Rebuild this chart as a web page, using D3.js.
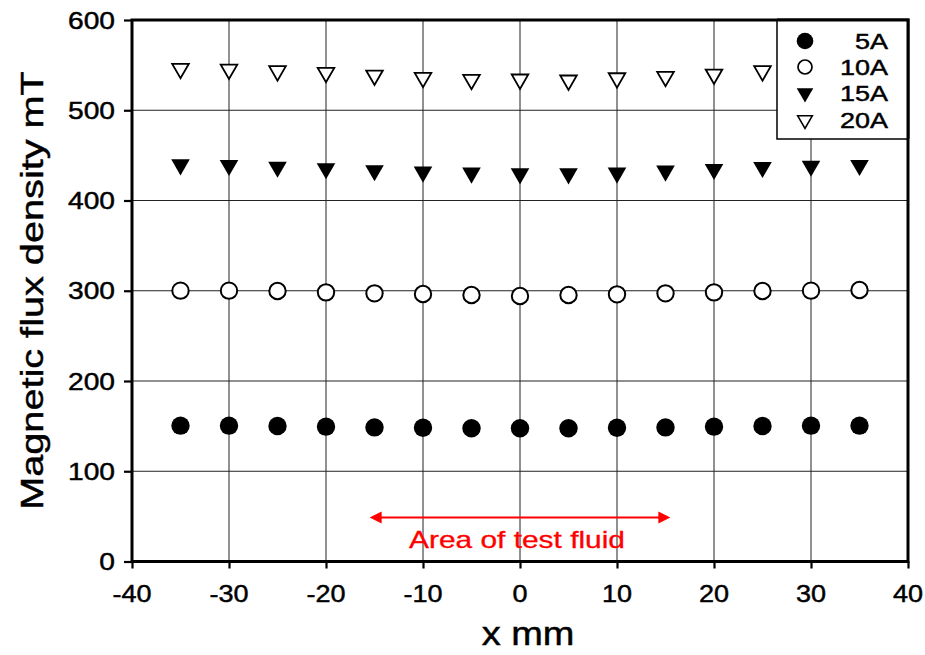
<!DOCTYPE html>
<html>
<head>
<meta charset="utf-8">
<script src="https://cdn.jsdelivr.net/npm/d3@7"></script>
<style>
  html, body { margin: 0; padding: 0; background: #fff; }
  svg { display: block; }
  text { font-family: "Liberation Sans", Arial, sans-serif; }
</style>
</head>
<body>
<svg id="chart" width="925" height="655"></svg>
<script>
// Measurement positions along x (mm)
const positions = [-35, -30, -25, -20, -15, -10, -5, 0, 5, 10, 15, 20, 25, 30, 35];

// Magnetic flux density (mT) for each coil current
const flux5A  = [150.5, 150.5, 150.1, 149.4, 148.6, 148.2, 147.6, 147.6, 147.6, 148.2, 148.6, 149.4, 150.1, 150.5, 150.5];
const flux10A = [300.1, 300.1, 299.7, 298.2, 297.1, 296.4, 295.3, 294.2, 295.3, 296.0, 297.1, 298.2, 299.7, 300.1, 300.8];
const flux15A = [439.8, 439.1, 437.2, 435.4, 433.2, 431.7, 430.6, 429.8, 429.8, 430.6, 432.8, 434.7, 436.8, 438.3, 439.1];
const flux20A = [546.2, 545.4, 543.6, 541.7, 538.8, 536.2, 534.0, 534.4, 533.3, 535.8, 537.3, 539.9, 543.6, 545.0, 546.0];

const seriesNames = ["5A", "10A", "15A", "20A"];
const xTicks = [-40, -30, -20, -10, 0, 10, 20, 30, 40];
const yTicks = [0, 100, 200, 300, 400, 500, 600];
const fluidRange = [-15.5, 15.5];

const svg = d3.select("#chart");
const plotL = 132, plotR = 908, plotT = 20, plotB = 561.5;

const x = d3.scaleLinear().domain([-40, 40]).range([plotL, plotR]);
const y = d3.scaleLinear().domain([0, 600]).range([plotB, plotT]);

// Text with horizontally widened, slightly heavier glyphs
function wideText(g, px, py, str, opts) {
  const fill = opts.fill || "#000";
  return g.append("text")
    .attr("transform", `translate(${px},${py}) ${opts.rotate ? "rotate(-90)" : ""} scale(${opts.sx || 1.25},1)`)
    .attr("font-size", opts.size)
    .attr("text-anchor", opts.anchor || "middle")
    .attr("fill", fill)
    .attr("stroke", fill)
    .attr("stroke-width", opts.sw == null ? 0.45 : opts.sw)
    .text(str);
}

// Grid lines
const grid = svg.append("g").attr("stroke", "#222").attr("stroke-width", 1);
grid.selectAll("line.gx").data(xTicks.slice(1, -1)).join("line").attr("class", "gx")
  .attr("x1", d => x(d)).attr("x2", d => x(d)).attr("y1", plotT).attr("y2", plotB);
grid.selectAll("line.gy").data(yTicks.slice(1, -1)).join("line").attr("class", "gy")
  .attr("x1", plotL).attr("x2", plotR).attr("y1", d => y(d)).attr("y2", d => y(d));

// Axes
const xAxis = svg.append("g").attr("transform", `translate(0,${plotB})`)
  .call(d3.axisBottom(x).tickValues(xTicks).tickSize(7).tickFormat(""));
const yAxis = svg.append("g").attr("transform", `translate(${plotL},0)`)
  .call(d3.axisLeft(y).tickValues(yTicks).tickSize(8).tickFormat(""));
[xAxis, yAxis].forEach(a => {
  a.select(".domain").remove();
  a.selectAll(".tick line").attr("stroke", "#000").attr("stroke-width", 2.2);
});

// Tick labels
const labels = svg.append("g");
xTicks.forEach(v => wideText(labels, x(v), 602, String(v), { size: 23.5, sx: 1.15 }));
yTicks.forEach(v => wideText(labels, 115, y(v) + 8.5, String(v), { size: 23.5, anchor: "end", sx: 1.2 }));

// Plot frame
svg.append("rect")
  .attr("x", plotL).attr("y", plotT)
  .attr("width", plotR - plotL).attr("height", plotB - plotT)
  .attr("fill", "none").attr("stroke", "#000").attr("stroke-width", 3);

// Marker shapes
const triDown = (hw, up, down) => `M${-hw},${-up}L${hw},${-up}L0,${down}Z`;
const markers = {
  "5A":  g => g.append("circle").attr("r", 9.2).attr("fill", "#000"),
  "10A": g => g.append("circle").attr("r", 8.2).attr("fill", "#fff").attr("stroke", "#000").attr("stroke-width", 2),
  "15A": g => g.append("path").attr("d", triDown(9.3, 5.3, 10.8)).attr("fill", "#000"),
  "20A": g => g.append("path").attr("d", triDown(8.3, 4.7, 9.7)).attr("fill", "#fff").attr("stroke", "#000").attr("stroke-width", 1.8)
};

const series = [flux5A, flux10A, flux15A, flux20A];
series.forEach((vals, i) => {
  const name = seriesNames[i];
  svg.append("g").selectAll("g")
    .data(positions.map((p, j) => ({ p, v: vals[j] }))).join("g")
    .attr("transform", d => `translate(${x(d.p)},${y(d.v)})`)
    .each(function () { markers[name](d3.select(this)); });
});

// Legend
const legend = svg.append("g");
const legL = 777, legB = 139;
legend.append("rect")
  .attr("x", legL).attr("y", plotT).attr("width", plotR - legL).attr("height", legB - plotT)
  .attr("fill", "#fff").attr("stroke", "#000").attr("stroke-width", 1.5);
legend.append("path").attr("d", `M${legL},${plotT}L${plotR},${plotT}L${plotR},${legB}`)
  .attr("fill", "none").attr("stroke", "#000").attr("stroke-width", 3);
const legendRows = [41, 67, 93, 120];
const legendMarkers = {
  "5A":  g => g.append("circle").attr("r", 8.3).attr("fill", "#000"),
  "10A": g => g.append("circle").attr("r", 7).attr("fill", "#fff").attr("stroke", "#000").attr("stroke-width", 1.7),
  "15A": g => g.append("path").attr("d", triDown(8.3, 4.8, 9.6)).attr("fill", "#000"),
  "20A": g => g.append("path").attr("d", triDown(7.3, 4.2, 8.5)).attr("fill", "#fff").attr("stroke", "#000").attr("stroke-width", 1.6)
};
seriesNames.forEach((name, i) => {
  const row = legend.append("g").attr("transform", `translate(805,${legendRows[i]})`);
  legendMarkers[name](row);
  wideText(legend, 888, legendRows[i] + 8, name, { size: 22.5, anchor: "end", sx: 1.2 });
});

// Test fluid region annotation
const red = "#ff0000";
const ay = 517.5;
const ann = svg.append("g");
ann.append("line")
  .attr("x1", x(fluidRange[0]) + 8).attr("x2", x(fluidRange[1]) - 8)
  .attr("y1", ay).attr("y2", ay).attr("stroke", red).attr("stroke-width", 2);
ann.append("path").attr("fill", red)
  .attr("d", `M${x(fluidRange[0])},${ay}l12,-6l0,12Z M${x(fluidRange[1])},${ay}l-12,-6l0,12Z`);
wideText(ann, 517, 548, "Area of test fluid", { size: 23, fill: red, sx: 1.3, sw: 0.3 });

// Axis titles
wideText(svg, 528, 645, "x mm", { size: 33, sx: 1.15 });
wideText(svg, 43, 290.5, "Magnetic flux density mT", { size: 32, rotate: true, sx: 1.24 });
</script>
</body>
</html>
